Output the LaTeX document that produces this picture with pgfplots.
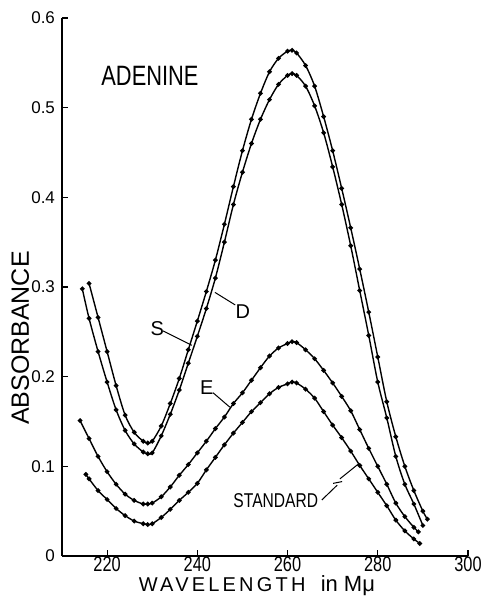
\documentclass[border=0pt]{standalone}
\usepackage{pgfplots}
\pgfplotsset{compat=1.18}
\usepackage{fontspec}
\setmainfont{Liberation Sans}
\newfontfamily\cond[FakeStretch=0.78]{Liberation Sans}
\newfontfamily\wide[LetterSpace=16]{Liberation Sans}

\begin{document}
\begin{tikzpicture}
\useasboundingbox (-31pt,-20pt) rectangle (209.5pt,278pt);
\begin{axis}[
    at={(0pt,0pt)}, anchor=south west,
    scale only axis, width=203pt, height=269pt,
    xmin=210, xmax=300, ymin=0, ymax=0.6,
    axis x line*=bottom, axis y line*=left,
    axis line style={line width=0.8pt},
    xtick={220,240,260,280,300},
    ytick={0,0.1,0.2,0.3,0.4,0.5,0.6},
    tick align=inside, major tick length=3pt,
    tick style={black, line width=0.6pt},
    /pgf/number format/assume math mode=true,
    xticklabel style={font=\cond\fontsize{10.5}{12}\selectfont, yshift=3pt},
    yticklabel style={font=\fontsize{8.5}{10}\selectfont},
    clip=false,
]
% D
\addplot[black, line width=0.7pt, smooth, mark=*, mark size=0.8pt] coordinates {(216,0.304) (218,0.266) (220,0.228) (222,0.190) (224,0.157) (226,0.138) (228,0.128) (229,0.126) (230,0.128) (232,0.145) (234,0.170) (236,0.198) (238,0.230) (240,0.262) (242,0.295) (244,0.330) (246,0.370) (248,0.412) (250,0.452) (252,0.487) (254,0.516) (256,0.540) (258,0.555) (260,0.563) (261,0.564) (262,0.561) (264,0.547) (266,0.524) (268,0.490) (270,0.452) (272,0.410) (274,0.366) (276,0.320) (278,0.272) (280,0.222) (282,0.172) (284,0.133) (286,0.100) (288,0.073) (290,0.050) (291,0.041)};
% S
\addplot[black, line width=0.7pt, smooth, mark=*, mark size=0.8pt] coordinates {(214.5,0.298) (216,0.265) (218,0.228) (220,0.194) (222,0.163) (224,0.140) (226,0.125) (228,0.116) (229,0.114) (230,0.115) (232,0.134) (234,0.158) (236,0.185) (238,0.215) (240,0.245) (242,0.276) (244,0.310) (246,0.350) (248,0.392) (250,0.428) (252,0.460) (254,0.487) (256,0.509) (258,0.526) (260,0.536) (261,0.538) (262,0.536) (264,0.524) (266,0.502) (268,0.472) (270,0.434) (272,0.392) (274,0.346) (276,0.296) (278,0.246) (280,0.194) (282,0.154) (284,0.111) (286,0.080) (288,0.058) (290,0.034)};
% E
\addplot[black, line width=0.7pt, smooth, mark=*, mark size=0.8pt] coordinates {(214,0.151) (216,0.131) (218,0.111) (220,0.094) (222,0.080) (224,0.069) (226,0.062) (228,0.058) (229,0.058) (230,0.059) (232,0.066) (234,0.077) (236,0.090) (238,0.102) (240,0.115) (242,0.128) (244,0.142) (246,0.155) (248,0.170) (250,0.182) (252,0.196) (254,0.210) (256,0.223) (258,0.232) (260,0.237) (261,0.239) (262,0.238) (264,0.230) (266,0.220) (268,0.207) (270,0.193) (272,0.178) (274,0.162) (276,0.141) (278,0.120) (280,0.100) (282,0.080) (284,0.059) (286,0.044) (288,0.032) (289,0.027)};
% STANDARD
\addplot[black, line width=0.7pt, smooth, mark=*, mark size=0.8pt] coordinates {(215.3,0.091) (216,0.086) (218,0.073) (220,0.063) (222,0.053) (224,0.045) (226,0.039) (228,0.036) (229,0.035) (230,0.036) (232,0.043) (234,0.052) (236,0.062) (238,0.071) (240,0.081) (242,0.096) (244,0.110) (246,0.124) (248,0.137) (250,0.149) (252,0.161) (254,0.171) (256,0.181) (258,0.188) (260,0.192) (261,0.194) (262,0.193) (264,0.186) (266,0.176) (268,0.161) (270,0.146) (272,0.132) (274,0.117) (276,0.101) (278,0.086) (280,0.071) (282,0.056) (284,0.040) (286,0.028) (288,0.019) (289.3,0.014)};

% labels
\node[font=\cond\fontsize{14}{16}\selectfont] at (axis cs:229.5,0.536) {ADENINE};
\node[font=\fontsize{10}{12}\selectfont] at (axis cs:231.1,0.254) {S};
\draw[line width=0.5pt] (axis cs:232.4,0.251) -- (axis cs:238.8,0.235);
\node[font=\fontsize{10}{12}\selectfont] at (axis cs:250.1,0.272) {D};
\draw[line width=0.5pt] (axis cs:248.4,0.280) -- (axis cs:243.9,0.294);
\node[font=\fontsize{10}{12}\selectfont] at (axis cs:242.1,0.188) {E};
\draw[line width=0.5pt] (axis cs:243.5,0.182) -- (axis cs:247.2,0.166);
\node[font=\cond\fontsize{10}{12}\selectfont] at (axis cs:257.4,0.062) {STANDARD};
\draw[line width=0.5pt] (axis cs:267.6,0.0625) -- (axis cs:271.0,0.079);
\draw[line width=0.5pt] (axis cs:270.1,0.081) -- (axis cs:272.1,0.083);
\draw[line width=0.5pt] (axis cs:271.6,0.086) -- (axis cs:275.8,0.103);
\node[rotate=90, font=\fontsize{12.5}{14}\selectfont] at (rel axis cs:-0.103,0.405) {ABSORBANCE};
\node[font=\wide\fontsize{10}{12}\selectfont, anchor=base west] at (rel axis cs:0.172,-0.066) {WAVELENGTH};
\node[font=\fontsize{11}{12}\selectfont, anchor=base west] at (rel axis cs:0.62,-0.066) {in Mμ};
\end{axis}
\end{tikzpicture}
\end{document}
